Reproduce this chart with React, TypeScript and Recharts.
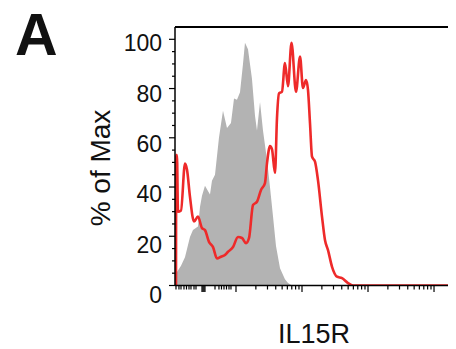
import React from 'react';
import { ComposedChart, Area, Line, XAxis, YAxis, ReferenceLine, Customized } from 'recharts';

// x positions are in log-decade units of the IL15R channel (2 = 10^2, 3 = 10^3 ...)
const isotypeX = [1.076, 1.106, 1.167, 1.227, 1.303, 1.348, 1.424, 1.455, 1.485, 1.53, 1.606, 1.636, 1.682, 1.742, 1.803, 1.864, 1.924, 1.97, 2.015, 2.061, 2.106, 2.136, 2.182, 2.242, 2.288, 2.318, 2.364, 2.409, 2.47, 2.515, 2.561, 2.606, 2.667, 2.742, 2.788, 2.848];
const isotypeY = [4.5, 5.5, 8, 11.5, 19.7, 22.5, 24, 32, 36.5, 40.5, 37, 42.5, 45, 60, 71, 64, 66, 76, 75.5, 78.5, 90, 98.6, 96, 84, 69, 63, 74.5, 63, 51, 40, 28, 16, 7, 2.5, 1, 0];

const il15rX = [1.091, 1.095, 1.106, 1.121, 1.167, 1.227, 1.258, 1.303, 1.364, 1.424, 1.485, 1.53, 1.591, 1.652, 1.712, 1.773, 1.833, 1.879, 1.955, 2.03, 2.091, 2.152, 2.197, 2.258, 2.318, 2.379, 2.439, 2.47, 2.515, 2.545, 2.591, 2.621, 2.652, 2.697, 2.742, 2.788, 2.841, 2.909, 2.97, 3.015, 3.061, 3.091, 3.121, 3.152, 3.197, 3.242, 3.303, 3.348, 3.394, 3.455, 3.53, 3.606, 3.697, 3.773, 5.333];
const il15rY = [0, 53, 53, 30, 30.5, 49.5, 47, 36, 26, 28, 23.3, 22.5, 17.7, 15.6, 11, 11.7, 12.4, 13.7, 15.6, 19.7, 19.3, 17.2, 19.2, 32.7, 34, 38.8, 41.6, 49.7, 56.6, 55.4, 45.7, 68, 78, 78.7, 90.4, 81, 98.6, 78.7, 93, 80.2, 83.5, 79.4, 66, 52.3, 50.3, 42.8, 28, 18.5, 14.4, 7.6, 3.6, 3, 1, 0, 0];

const yTicks = [0, 5, 10, 15, 20, 25, 30, 35, 40, 45, 50, 55, 60, 65, 70, 75, 80, 85, 90, 95, 100];
const yLabelTicks = [0, 20, 40, 60, 80, 100];
const decades = [2, 3, 4, 5];
const linearRegionTicks = [1.091, 1.136, 1.167, 1.212, 1.25, 1.288, 1.318, 1.364, 1.394, 1.485, 1.5, 1.515, 1.53, 1.682, 1.742, 1.78, 1.818, 1.856, 1.894, 1.924];
const heavyTicks = [1.485, 1.5, 1.515, 1.53];

const X_DOMAIN: [number, number] = [1.076, 5.333];
const Y_DOMAIN: [number, number] = [0, 105];

const isotypeData = isotypeX.map((x, i) => ({ x, y: isotypeY[i] }));
const il15rData = il15rX.map((x, i) => ({ x, y: il15rY[i] }));

const xTicks: number[] = [...linearRegionTicks];
decades.forEach((d) => {
  xTicks.push(d);
  for (let k = 2; k <= 9; k++) {
    const v = d + Math.log10(k);
    if (v <= X_DOMAIN[1]) xTicks.push(Number(v.toFixed(4)));
  }
});
xTicks.sort((a, b) => a - b);

const FONT = '"Liberation Sans", Arial, Helvetica, sans-serif';

const XTick = (props: any) => {
  const { x, y, payload } = props;
  const v = payload.value;
  const major = decades.includes(v) || heavyTicks.includes(v);
  const len = major ? 6.5 : 4;
  return <line x1={x} y1={y} x2={x} y2={y + len} stroke="#000" strokeWidth={1.2} />;
};

const YTick = (props: any) => {
  const { x, y, payload } = props;
  const v = payload.value;
  const major = yLabelTicks.includes(v);
  const len = major ? 6 : 3;
  return (
    <g>
      <line x1={x - len} y1={y} x2={x} y2={y} stroke="#000" strokeWidth={1.2} />
      {major && (
        <text x={x - 13} y={y + 12 + (100 - v) * 0.055} textAnchor="end" fontFamily={FONT} fontSize={23} fill="#111">
          {v}
        </text>
      )}
    </g>
  );
};

const Titles = () => (
  <g>
    <text x={15} y={55} fontFamily={FONT} fontWeight="bold" fontSize={59} fill="#111">A</text>
    <text x={314} y={343} textAnchor="middle" fontFamily={FONT} fontSize={27} fill="#111">IL15R</text>
    <text transform="translate(110,168) rotate(-90)" textAnchor="middle" fontFamily={FONT} fontSize={28} fill="#111">% of Max</text>
  </g>
);

export default function App() {
  return (
    <div style={{ margin: '-8px 0 0 -8px', width: 456, height: 349 }}>
      <ComposedChart width={456} height={349} margin={{ top: 27, right: 0, bottom: 33.5, left: 0 }}>
        <XAxis
          type="number"
          dataKey="x"
          domain={X_DOMAIN}
          allowDataOverflow
          ticks={xTicks}
          interval={0}
          tickSize={0}
          tickMargin={0}
          tickLine={false}
          tick={<XTick />}
          axisLine={{ stroke: '#000', strokeWidth: 1.5 }}
          height={30}
        />
        <YAxis
          type="number"
          dataKey="y"
          domain={Y_DOMAIN}
          allowDataOverflow
          ticks={yTicks}
          interval={0}
          tickSize={0}
          tickMargin={0}
          tickLine={false}
          tick={<YTick />}
          axisLine={{ stroke: '#000', strokeWidth: 1.5 }}
          width={175}
        />
        <ReferenceLine y={105} stroke="#000" strokeWidth={2} />
        <Area
          data={isotypeData}
          dataKey="y"
          type="linear"
          stroke="none"
          fill="#B3B3B3"
          fillOpacity={1}
          isAnimationActive={false}
        />
        <Line
          data={il15rData}
          dataKey="y"
          type="monotone"
          stroke="#EE2A2A"
          strokeWidth={2.6}
          dot={false}
          isAnimationActive={false}
        />
        <Customized component={Titles} />
      </ComposedChart>
    </div>
  );
}
